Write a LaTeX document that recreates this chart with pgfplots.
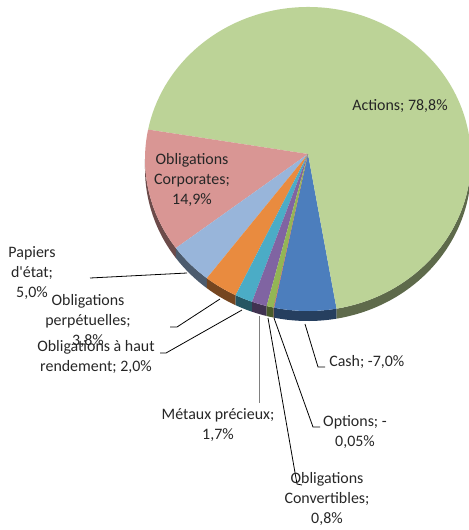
\documentclass[border=0pt]{standalone}
\usepackage{pgfplots}
\pgfplotsset{compat=1.18}
\usepackage{pgfplotstable}
\usepackage{fontspec}
\setmainfont{Carlito}
\definecolor{cAct}{HTML}{BCD397}
\definecolor{cCorp}{HTML}{D99694}
\definecolor{cPap}{HTML}{98B5DA}
\definecolor{cPerp}{HTML}{E98B3F}
\definecolor{cHY}{HTML}{4BACC6}
\definecolor{cMet}{HTML}{8064A2}
\definecolor{cConv}{HTML}{93B655}
\definecolor{cOpt}{HTML}{C0504D}
\definecolor{cCash}{HTML}{4C7EBD}

% absolute shares (Cash and Options are negative positions)
\pgfplotstableread{
name value col
Cash 7.0 cCash
Actions 78.8 cAct
Corporates 14.9 cCorp
Papiers 5.0 cPap
Perpetuelles 3.8 cPerp
HautRendement 2.0 cHY
Metaux 1.7 cMet
Convertibles 0.8 cConv
Options 0.05 cOpt
}\piedata

\newcommand\piex{122.25bp}
\newcommand\piey{114bp}
\newcommand\pieth{7.5bp}
\newcommand\piestart{-102}

% compute slice angles from the table (in the preamble: no stray spaces)
\pgfplotstablegetrowsof{\piedata}\pgfmathtruncatemacro{\pN}{\pgfplotsretval-1}%
\xdef\pN{\pN}%
\gdef\ptot{0}%
\foreach \i in {0,...,\pN}{%
  \pgfplotstablegetelem{\i}{value}\of\piedata
  \pgfmathsetmacro{\tmp}{\ptot+\pgfplotsretval}\global\let\ptot\tmp
}%
\xdef\pcur{\piestart}%
\foreach \i in {0,...,\pN}{%
  \pgfplotstablegetelem{\i}{value}\of\piedata \let\pv\pgfplotsretval
  \pgfplotstablegetelem{\i}{col}\of\piedata \expandafter\xdef\csname pcol\i\endcsname{\pgfplotsretval}%
  \pgfmathsetmacro{\pA}{\pcur}%
  \pgfmathsetmacro{\pB}{\pcur+\pv/\ptot*360}%
  \expandafter\xdef\csname pA\i\endcsname{\pA}%
  \expandafter\xdef\csname pB\i\endcsname{\pB}%
  \pgfmathsetmacro{\plo}{max(\pA,-180)}\pgfmathsetmacro{\phi}{min(\pB,0)}%
  \pgfmathtruncatemacro{\pok}{\phi>\plo ? 1 : 0}%
  \expandafter\xdef\csname pRa\i\endcsname{\pok}%
  \expandafter\xdef\csname pRaL\i\endcsname{\plo}%
  \expandafter\xdef\csname pRaH\i\endcsname{\phi}%
  \pgfmathsetmacro{\plo}{max(\pA,180)}\pgfmathsetmacro{\phi}{min(\pB,360)}%
  \pgfmathtruncatemacro{\pok}{\phi>\plo ? 1 : 0}%
  \expandafter\xdef\csname pRb\i\endcsname{\pok}%
  \expandafter\xdef\csname pRbL\i\endcsname{\plo}%
  \expandafter\xdef\csname pRbH\i\endcsname{\phi}%
  \global\let\pcur\pB
}%

\begin{document}
\begin{tikzpicture}
\begin{axis}[name=ax, width=351.75bp, height=397.5bp, scale only axis,
  xmin=0, xmax=469, ymin=0, ymax=530, y dir=reverse, hide axis, clip=false]
\pgfplotsextra{
  \coordinate (pc) at (axis cs:308,159);
  \coordinate (pa) at (axis cs:308,154);
  \foreach \i in {0,...,\pN}{
    \edef\pcol{\csname pcol\i\endcsname}
    \ifnum\csname pRa\i\endcsname=1
      \edef\plo{\csname pRaL\i\endcsname}\edef\phi{\csname pRaH\i\endcsname}
      \fill[\pcol!50!black] (pc) ++(\plo:\piex\space and \piey) arc[start angle=\plo,end angle=\phi,x radius=\piex,y radius=\piey] -- ++(0,-\pieth) arc[start angle=\phi,end angle=\plo,x radius=\piex,y radius=\piey] -- cycle;
    \fi
    \ifnum\csname pRb\i\endcsname=1
      \edef\plo{\csname pRbL\i\endcsname}\edef\phi{\csname pRbH\i\endcsname}
      \fill[\pcol!50!black] (pc) ++(\plo:\piex\space and \piey) arc[start angle=\plo,end angle=\phi,x radius=\piex,y radius=\piey] -- ++(0,-\pieth) arc[start angle=\phi,end angle=\plo,x radius=\piex,y radius=\piey] -- cycle;
    \fi
  }
  \foreach \i in {0,...,\pN}{
    \edef\pcol{\csname pcol\i\endcsname}
    \edef\pA{\csname pA\i\endcsname}\edef\pB{\csname pB\i\endcsname}
    \path (pc) ++(\pA:\piex\space and \piey) coordinate (ps);
    \fill[\pcol] (pa) -- (ps) arc[start angle=\pA,end angle=\pB,x radius=\piex,y radius=\piey] -- cycle;
  }
}
% leader lines
\draw[line width=0.6pt] (axis cs:90,278) -- (axis cs:187,273);
\draw[line width=0.6pt] (axis cs:170,327) -- (axis cs:177,327) -- (axis cs:220,299);
\draw[line width=0.6pt] (axis cs:160,353) -- (axis cs:166,353) -- (axis cs:242,310);
\draw[line width=0.6pt, gray] (axis cs:259,316) -- (axis cs:259,403);
\draw[line width=0.6pt] (axis cs:268,318) -- (axis cs:297,484) -- (axis cs:302,485);
\draw[line width=0.6pt] (axis cs:274,318) -- (axis cs:313,427) -- (axis cs:320,427);
\draw[line width=0.6pt] (axis cs:305,324) -- (axis cs:318,367) -- (axis cs:325,367);
% labels
\tikzset{lab/.style={inner sep=0pt, align=center, font=\fontsize{12}{15}\selectfont, text=black!85}}
\node[lab] at (axis cs:400,106) {Actions; 78,8\%};
\node[lab] at (axis cs:192,180) {Obligations\\Corporates;\\14,9\%};
\node[lab] at (axis cs:32,273) {Papiers\\d\textquotesingle état;\\5,0\%};
\node[lab] at (axis cs:88,321) {Obligations\\perpétuelles;\\3,8\%};
\node[lab] at (axis cs:96,357) {Obligations à haut\\rendement; 2,0\%};
\node[lab] at (axis cs:218,425) {Métaux précieux;\\1,7\%};
\node[lab] at (axis cs:355,432) {Options; -\\0,05\%};
\node[lab] at (axis cs:327,499) {Obligations\\Convertibles;\\0,8\%};
\node[lab, anchor=west] at (axis cs:329,362) {Cash; -7,0\%};
\end{axis}
\pgfresetboundingbox
\path[use as bounding box] (ax.south west) rectangle (ax.north east);
\end{tikzpicture}
\end{document}
